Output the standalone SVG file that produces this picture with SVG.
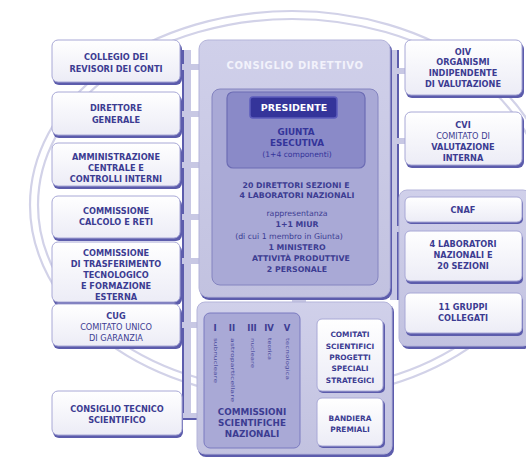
<svg xmlns="http://www.w3.org/2000/svg" width="526" height="457" viewBox="0 0 526 457">
<defs>
<linearGradient id="gw" x1="0" y1="0" x2="0" y2="1">
<stop offset="0" stop-color="#ffffff"/>
<stop offset="1" stop-color="#ececf6"/>
</linearGradient>
<linearGradient id="gl" x1="0" y1="0" x2="0" y2="1">
<stop offset="0" stop-color="#d0d0ea"/>
<stop offset="1" stop-color="#c2c2e0"/>
</linearGradient>
<marker id="ah" viewBox="0 0 10 10" refX="9" refY="5" markerWidth="4" markerHeight="4" orient="auto">
<path d="M0,0 L10,5 L0,10 z" fill="#2c2c8c"/>
</marker>
</defs>
<style>
.sh{fill:#5c5cac}
.box{fill:url(#gw);stroke:#a8a8d6;stroke-width:1}
.lav{fill:url(#gl);stroke:#b4b4da;stroke-width:1}
.mid{fill:#a9a9d6;stroke:#8484c0;stroke-width:1}
.t{font-family:"DejaVu Sans","Liberation Sans",Arial,sans-serif;font-weight:bold;font-size:8.2px;fill:#3c3c92;text-anchor:middle}
.n{font-weight:normal}
.c{font-size:7.8px}
.s{font-size:7.6px}
.k{font-size:7.4px}
.v{font-family:"DejaVu Sans","Liberation Sans",Arial,sans-serif;font-size:5px;fill:#4a4a9c}
.ring{fill:none;stroke:#d2d2e8;stroke-width:2.2}
.bus{fill:#c8c8e4}
.edge{stroke:#5c5cac;stroke-width:2;fill:none}
</style>
<rect width="526" height="457" fill="#ffffff"/>
<g id="ring">
<ellipse class="ring" cx="292" cy="205" rx="262" ry="194"/>
<ellipse class="ring" cx="292" cy="205" rx="254" ry="186"/>
</g>
<g id="connectors">
<rect class="bus" x="182" y="50" width="9" height="370"/>
<line class="edge" x1="183" y1="50" x2="183" y2="420"/>
<rect class="bus" x="180" y="64" width="20" height="6"/>
<rect class="bus" x="180" y="111" width="20" height="6"/>
<rect class="bus" x="180" y="162" width="20" height="6"/>
<rect class="bus" x="180" y="214" width="20" height="6"/>
<rect class="bus" x="180" y="258" width="20" height="6"/>
<rect class="bus" x="180" y="322" width="18" height="6"/>
<rect class="bus" x="180" y="413" width="18" height="6"/>
<line class="edge" x1="183" y1="419" x2="197" y2="419"/>
<rect class="bus" x="390" y="50" width="9" height="250"/>
<line class="edge" x1="398" y1="50" x2="398" y2="300"/>
<rect class="bus" x="389" y="68" width="17" height="6"/>
<rect class="bus" x="389" y="138" width="17" height="6"/>
<rect class="bus" x="389" y="226" width="12" height="6"/>
<rect class="bus" x="292" y="292" width="14" height="14"/>
<polyline points="262,224 219,224 219,140 261,140" fill="none" stroke="#2c2c8c" stroke-width="2" marker-end="url(#ah)"/>
</g>
<g id="collegio">
<rect class="sh" x="53" y="43" width="129" height="42" rx="6"/>
<rect class="box" x="52" y="40" width="128" height="42" rx="6"/>
<text class="t" x="116" y="60">COLLEGIO DEI</text>
<text class="t" x="116" y="72">REVISORI DEI CONTI</text>
</g>
<g id="direttore">
<rect class="sh" x="53" y="95" width="129" height="43" rx="6"/>
<rect class="box" x="52" y="92" width="128" height="43" rx="6"/>
<text class="t" x="116" y="111">DIRETTORE</text>
<text class="t" x="116" y="123">GENERALE</text>
</g>
<g id="amministrazione">
<rect class="sh" x="53" y="146" width="129" height="43" rx="6"/>
<rect class="box" x="52" y="143" width="128" height="43" rx="6"/>
<text class="t" x="116" y="160">AMMINISTRAZIONE</text>
<text class="t" x="116" y="171">CENTRALE E</text>
<text class="t" x="116" y="182">CONTROLLI INTERNI</text>
</g>
<g id="calcolo">
<rect class="sh" x="53" y="199" width="129" height="42" rx="6"/>
<rect class="box" x="52" y="196" width="128" height="42" rx="6"/>
<text class="t" x="116" y="214">COMMISSIONE</text>
<text class="t" x="116" y="225">CALCOLO E RETI</text>
</g>
<g id="trasferimento">
<rect class="sh" x="53" y="245" width="129" height="60" rx="6"/>
<rect class="box" x="52" y="242" width="128" height="60" rx="6"/>
<text class="t" x="116" y="256">COMMISSIONE</text>
<text class="t" x="116" y="267">DI TRASFERIMENTO</text>
<text class="t" x="116" y="278">TECNOLOGICO</text>
<text class="t" x="116" y="289">E FORMAZIONE</text>
<text class="t" x="116" y="300">ESTERNA</text>
</g>
<g id="cug">
<rect class="sh" x="53" y="307" width="129" height="42" rx="6"/>
<rect class="box" x="52" y="304" width="128" height="42" rx="6"/>
<text class="t" x="116" y="319">CUG</text>
<text class="t n" x="116" y="330">COMITATO UNICO</text>
<text class="t n" x="116" y="341">DI GARANZIA</text>
</g>
<g id="cts">
<rect class="sh" x="53" y="394" width="130" height="44" rx="6"/>
<rect class="box" x="52" y="391" width="130" height="44" rx="6"/>
<text class="t" x="117" y="412">CONSIGLIO TECNICO</text>
<text class="t" x="117" y="423">SCIENTIFICO</text>
</g>
<g id="consiglio-direttivo">
<rect class="sh" x="200" y="42" width="192" height="258" rx="9"/>
<rect class="lav" x="199" y="40" width="191" height="257" rx="9"/>
<text class="t" x="295" y="69" style="font-size:10px;fill:#f2f2fb;letter-spacing:0.6px">CONSIGLIO DIRETTIVO</text>
<rect class="mid" x="212" y="89" width="166" height="196" rx="8"/>
<text class="t c" x="296" y="188">20 DIRETTORI SEZIONI E</text>
<text class="t c" x="297" y="198">4 LABORATORI NAZIONALI</text>
<text class="t n c" x="297" y="216">rappresentanza</text>
<text class="t c" x="297" y="227">1+1 MIUR</text>
<text class="t n c" x="289" y="239">(di cui 1 membro in Giunta)</text>
<text class="t c" x="297" y="250">1 MINISTERO</text>
<text class="t c" x="301" y="261">ATTIVITÀ PRODUTTIVE</text>
<text class="t c" x="297" y="272">2 PERSONALE</text>
</g>
<g id="giunta">
<rect x="227" y="92" width="138" height="76" rx="6" fill="#8a8ac8" stroke="#6c6cb4" stroke-width="1.2"/>
<text class="t" x="296" y="135" style="fill:#34349a;font-size:8.8px">GIUNTA</text>
<text class="t" x="297" y="146" style="fill:#34349a;font-size:8.8px">ESECUTIVA</text>
<text class="t n" x="297" y="157" style="fill:#34349a;font-size:7.6px">(1+4 componenti)</text>
</g>
<g id="presidente">
<rect x="250" y="97" width="87" height="21" rx="3" fill="#34349a" stroke="#5c5cbc" stroke-width="1.5"/>
<text class="t" x="294" y="111" style="fill:#ffffff;font-size:9.5px">PRESIDENTE</text>
</g>
<g id="gruppo-commissioni">
<rect class="sh" x="198" y="304" width="196" height="153" rx="8"/>
<rect class="lav" x="197" y="302" width="195" height="152" rx="8"/>
</g>
<g id="commissioni">
<rect class="mid" x="204" y="313" width="96" height="135" rx="6" style="stroke:#7a7ac0"/>
<text class="t" x="215" y="331" style="font-size:8.5px">I</text>
<text class="t" x="232" y="331" style="font-size:8.5px">II</text>
<text class="t" x="252" y="331" style="font-size:8.5px">III</text>
<text class="t" x="269" y="331" style="font-size:8.5px">IV</text>
<text class="t" x="287" y="331" style="font-size:8.5px">V</text>
<text class="v" transform="translate(213.5,338) rotate(90)" textLength="45" lengthAdjust="spacingAndGlyphs">subnucleare</text>
<text class="v" transform="translate(230.5,338) rotate(90)" textLength="64" lengthAdjust="spacingAndGlyphs">astroparticellare</text>
<text class="v" transform="translate(250.5,338) rotate(90)" textLength="30" lengthAdjust="spacingAndGlyphs">nucleare</text>
<text class="v" transform="translate(267.5,338) rotate(90)" textLength="22" lengthAdjust="spacingAndGlyphs">teorica</text>
<text class="v" transform="translate(285.5,338) rotate(90)" textLength="42" lengthAdjust="spacingAndGlyphs">tecnologica</text>
<text class="t" x="252" y="415" style="font-size:8.8px">COMMISSIONI</text>
<text class="t" x="252" y="426" style="font-size:8.8px">SCIENTIFICHE</text>
<text class="t" x="252" y="437" style="font-size:8.8px">NAZIONALI</text>
</g>
<g id="comitati">
<rect class="sh" x="318" y="321" width="67" height="72" rx="5"/>
<rect class="box" x="317" y="319" width="66" height="72" rx="5"/>
<text class="t k" x="350" y="337">COMITATI</text>
<text class="t k" x="350" y="349">SCIENTIFICI</text>
<text class="t k" x="350" y="360">PROGETTI</text>
<text class="t k" x="350" y="371">SPECIALI</text>
<text class="t k" x="350" y="383">STRATEGICI</text>
</g>
<g id="bandiera">
<rect class="sh" x="318" y="400" width="67" height="48" rx="5"/>
<rect class="box" x="317" y="398" width="66" height="48" rx="5"/>
<text class="t k" x="350" y="421">BANDIERA</text>
<text class="t k" x="350" y="432">PREMIALI</text>
</g>
<g id="oiv">
<rect class="sh" x="406" y="43" width="118" height="55" rx="6"/>
<rect class="box" x="405" y="40" width="117" height="55" rx="6"/>
<text class="t" x="463" y="55">OIV</text>
<text class="t" x="463" y="65">ORGANISMI</text>
<text class="t" x="463" y="76">INDIPENDENTE</text>
<text class="t" x="463" y="87">DI VALUTAZIONE</text>
</g>
<g id="cvi">
<rect class="sh" x="406" y="115" width="118" height="53" rx="6"/>
<rect class="box" x="405" y="112" width="117" height="53" rx="6"/>
<text class="t" x="463" y="128">CVI</text>
<text class="t n" x="463" y="139">COMITATO DI</text>
<text class="t" x="463" y="150">VALUTAZIONE</text>
<text class="t" x="463" y="161">INTERNA</text>
</g>
<g id="strutture">
<rect class="sh" x="401" y="192" width="130" height="157" rx="8"/>
<rect class="lav" x="399" y="190" width="132" height="156" rx="8"/>
</g>
<g id="cnaf">
<rect class="sh" x="406" y="199" width="117" height="25" rx="5"/>
<rect class="box" x="405" y="197" width="117" height="25" rx="5"/>
<text class="t" x="463" y="213">CNAF</text>
</g>
<g id="laboratori">
<rect class="sh" x="406" y="234" width="117" height="50" rx="5"/>
<rect class="box" x="405" y="231" width="117" height="50" rx="5"/>
<text class="t" x="463" y="247">4 LABORATORI</text>
<text class="t" x="463" y="258">NAZIONALI E</text>
<text class="t" x="463" y="269">20 SEZIONI</text>
</g>
<g id="gruppi">
<rect class="sh" x="406" y="296" width="117" height="40" rx="5"/>
<rect class="box" x="405" y="293" width="117" height="40" rx="5"/>
<text class="t" x="463" y="310">11 GRUPPI</text>
<text class="t" x="463" y="321">COLLEGATI</text>
</g>
</svg>
